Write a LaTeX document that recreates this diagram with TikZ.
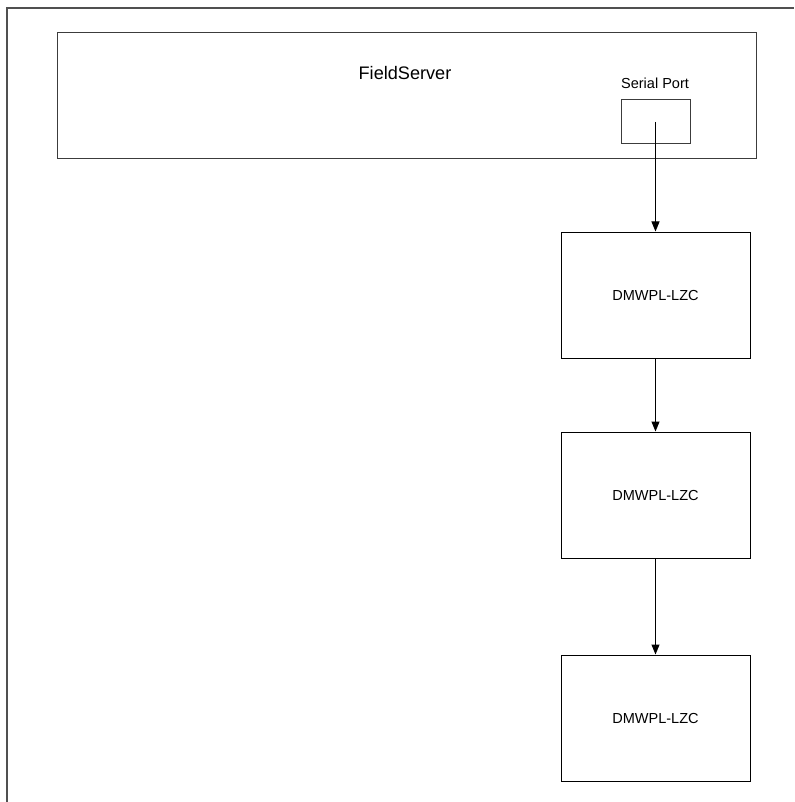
\documentclass[tikz,border=0pt]{standalone}
\usepackage{fontspec}
\setmainfont{Liberation Sans}
\usetikzlibrary{arrows.meta}

\tikzset{every picture/.style={line width=0.75pt}}
\tikzset{
  devbox/.style={draw, rectangle, inner sep=0pt, minimum width=141.75pt, minimum height=94.5pt, font=\fontsize{10.9}{13}\selectfont},
  link/.style={-{Triangle[width=6pt,length=7.5pt]}}
}

\begin{document}
\begin{tikzpicture}[x=0.75pt,y=0.75pt,yscale=-1,xscale=1]
\useasboundingbox (0,0) rectangle (794,802);

%Outer frame
\draw [color={rgb, 255:red, 80; green, 80; blue, 80 }, line width=1.5pt] (7,802) -- (7,8) -- (794,8) ;

%Shape: Rectangle
\node (fs) [draw, color={rgb, 255:red, 60; green, 60; blue, 60 }, rectangle, inner sep=0pt, minimum width=524.25pt, minimum height=94.5pt] at (406.5,96) {};
%Shape: Rectangle
\node (port) [draw, color={rgb, 255:red, 60; green, 60; blue, 60 }, rectangle, inner sep=0pt, minimum width=51.75pt, minimum height=33pt] at (655.5,122) {};
%Shape: Rectangle
\node (dev1) [devbox] at (655.5,295) {DMWPL-LZC};
%Shape: Rectangle
\node (dev2) [devbox] at (655.5,495) {DMWPL-LZC};
%Shape: Rectangle
\node (dev3) [devbox] at (655.5,718) {DMWPL-LZC};

% Text Node
\node (fsname) [inner sep=0pt, font=\fontsize{13.6}{16}\selectfont] at (405,73) {FieldServer};
% Text Node
\node (portname) [inner sep=0pt, font=\fontsize{10.9}{13}\selectfont] at (655,83) {Serial Port};

%Straight Lines
\draw [link] (port.center) -- (dev1.north) ;
%Straight Lines
\draw [link] (dev1.south) -- (dev2.north) ;
%Straight Lines
\draw [link] (dev2.south) -- (dev3.north) ;

\end{tikzpicture}
\end{document}
